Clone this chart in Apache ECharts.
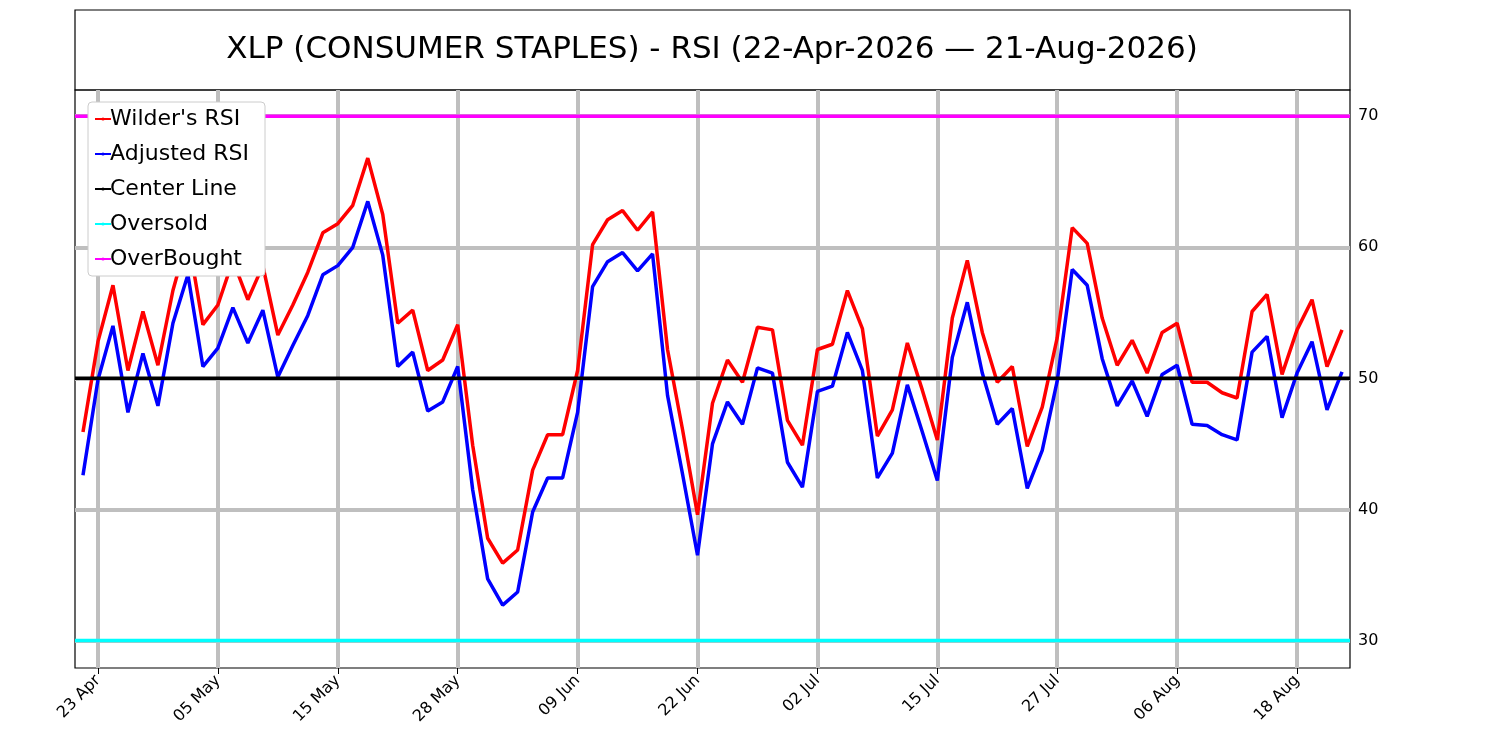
<!DOCTYPE html>
<html><head><meta charset="utf-8">
<script src="https://cdn.jsdelivr.net/npm/echarts@6/dist/echarts.min.js"></script>
<style>html,body{margin:0;padding:0;background:#fff}#c{width:1500px;height:750px}</style>
</head><body><div id="c"></div>
<script>
const dates = ["22 Apr","23 Apr","24 Apr","27 Apr","28 Apr","29 Apr","30 Apr","01 May","04 May","05 May","06 May","07 May","08 May","11 May","12 May","13 May","14 May","15 May","18 May","19 May","20 May","21 May","22 May","26 May","27 May","28 May","29 May","01 Jun","02 Jun","03 Jun","04 Jun","05 Jun","08 Jun","09 Jun","10 Jun","11 Jun","12 Jun","15 Jun","16 Jun","17 Jun","18 Jun","22 Jun","23 Jun","24 Jun","25 Jun","26 Jun","29 Jun","30 Jun","01 Jul","02 Jul","06 Jul","07 Jul","08 Jul","09 Jul","10 Jul","13 Jul","14 Jul","15 Jul","16 Jul","17 Jul","20 Jul","21 Jul","22 Jul","23 Jul","24 Jul","27 Jul","28 Jul","29 Jul","30 Jul","31 Jul","03 Aug","04 Aug","05 Aug","06 Aug","07 Aug","10 Aug","11 Aug","12 Aug","13 Aug","14 Aug","17 Aug","18 Aug","19 Aug","20 Aug","21 Aug"];
const tickIdx = [1,9,17,25,33,41,49,57,65,73,81];
const wilder = [45.9,52.8,57.1,50.6,55.1,51.0,56.7,60.8,54.1,55.6,59.0,56.0,58.6,53.3,55.6,58.1,61.1,61.8,63.2,66.8,62.5,54.2,55.2,50.6,51.4,54.1,44.9,37.8,35.9,36.9,43.0,45.7,45.7,50.6,60.2,62.1,62.8,61.3,62.7,52.2,46.1,39.6,48.1,51.4,49.7,53.9,53.7,46.8,44.9,52.2,52.6,56.7,53.8,45.6,47.6,52.7,49.1,45.3,54.6,59.0,53.5,49.7,50.9,44.8,47.8,53.1,61.5,60.3,54.6,51.0,52.9,50.4,53.5,54.2,49.7,49.7,48.9,48.5,55.1,56.4,50.3,53.7,56.0,50.9,53.7];
const adjusted = [42.6,49.9,54.0,47.4,51.9,47.9,54.2,57.9,50.9,52.3,55.4,52.7,55.2,50.1,52.5,54.8,57.9,58.6,60.0,63.5,59.4,50.9,52.0,47.5,48.2,50.9,41.5,34.7,32.7,33.7,39.8,42.4,42.4,47.4,57.0,58.9,59.6,58.2,59.5,48.7,42.7,36.5,45.0,48.2,46.5,50.8,50.4,43.6,41.7,49.0,49.4,53.5,50.6,42.4,44.3,49.5,45.9,42.2,51.6,55.8,50.4,46.5,47.7,41.6,44.5,49.8,58.3,57.1,51.5,47.9,49.8,47.1,50.3,51.0,46.5,46.4,45.7,45.3,52.0,53.2,47.0,50.4,52.8,47.6,50.5];
const yTicks = [30,40,50,60,70];
const levels = {center:50, oversold:30, overbought:70};

const X0=-0.533, X1=84.533;
const pts = a => a.map((v,i)=>[i,v]);
const hline = v => [[X0,v],[X1,v]];
const ln = (name,data,color,z) => ({type:'line',name,data,symbol:'none',lineStyle:{color,width:3.5},itemStyle:{color},z});
const chart = echarts.init(document.getElementById('c'));
chart.setOption({
  animation:false,
  graphic:[{type:'rect',shape:{x:75,y:10,width:1275,height:80},style:{fill:'#fff',stroke:'#000',lineWidth:1.2},z:-1},
    {type:'text',style:{text:'XLP (CONSUMER STAPLES) - RSI (22-Apr-2026 — 21-Aug-2026)',font:'31px "DejaVu Sans"',fill:'#000',x:712,y:50,textAlign:'center',textVerticalAlign:'middle'}}],
  grid:{left:75,right:150,top:90,bottom:82,show:true,borderColor:'#000',borderWidth:1.2,backgroundColor:'transparent'},
  legend:{left:88,top:102,orient:'vertical',itemGap:13,itemWidth:16,itemHeight:4,z:20,
    backgroundColor:'#fff',borderColor:'#ccc',borderWidth:1,borderRadius:4,padding:[6,16,6,6],
    textStyle:{fontSize:22,fontFamily:'DejaVu Sans',color:'#000',padding:[0,0,0,-6]},
    data:["Wilder's RSI","Adjusted RSI","Center Line","Oversold","OverBought"]},
  xAxis:{type:'value',min:X0,max:X1,splitLine:{show:false},
    axisLine:{show:false},
    axisTick:{customValues:tickIdx,length:6,lineStyle:{color:'#000'}},
    axisLabel:{customValues:tickIdx,formatter:v=>dates[v],rotate:45,fontSize:16,fontFamily:'DejaVu Sans',color:'#000',margin:10}},
  yAxis:{type:'value',position:'right',min:27.9,max:72,splitLine:{show:false},
    axisLine:{show:false},
    axisTick:{show:true,customValues:yTicks,length:6,lineStyle:{color:'#000'}},
    axisLabel:{customValues:yTicks,fontSize:16,fontFamily:'DejaVu Sans',color:'#000',margin:8}},
  series:[
    {type:'line',name:'grid',data:[],silent:true,z:1,markLine:{symbol:'none',silent:true,label:{show:false},
      lineStyle:{color:'#bfbfbf',width:4,type:'solid'},
      data:tickIdx.map(i=>({xAxis:i})).concat(yTicks.map(v=>({yAxis:v})))}},
    ln("Wilder's RSI",pts(wilder),'#ff0000',5),
    ln('Adjusted RSI',pts(adjusted),'#0000ff',5),
    ln('Center Line',hline(levels.center),'#000000',6),
    ln('Oversold',hline(levels.oversold),'#00ffff',6),
    ln('OverBought',hline(levels.overbought),'#ff00ff',6)
  ]
});
</script></body></html>
